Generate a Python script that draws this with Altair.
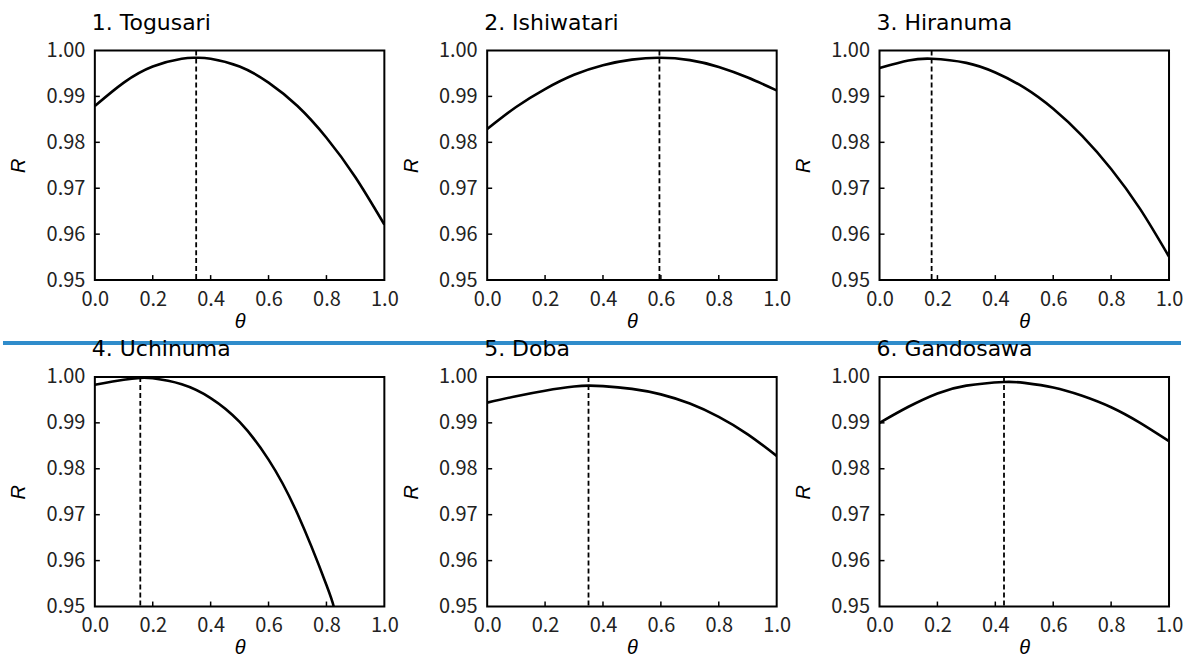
import altair as alt
import pandas as pd

TITLES = ["1. Togusari", "2. Ishiwatari", "3. Hiranuma",
          "4. Uchinuma", "5. Doba", "6. Gandosawa"]

THETA_1 = [0.0, 0.1, 0.2, 0.3, 0.35, 0.4, 0.5, 0.6, 0.7, 0.8, 0.9, 1.0]
R_1 = [0.9879, 0.9930, 0.9965, 0.9982, 0.9984, 0.9982, 0.9965, 0.9930, 0.9879, 0.9810, 0.9724, 0.9621]

THETA_2 = [0.0, 0.1, 0.2, 0.3, 0.4, 0.5, 0.595, 0.7, 0.8, 0.9, 1.0]
R_2 = [0.9829, 0.9877, 0.9916, 0.9947, 0.9968, 0.9980, 0.9984, 0.9979, 0.9964, 0.9941, 0.9913]

THETA_3 = [0.0, 0.1, 0.18, 0.3, 0.4, 0.5, 0.6, 0.7, 0.8, 0.9, 1.0]
R_3 = [0.9962, 0.9978, 0.9982, 0.9973, 0.9952, 0.9919, 0.9873, 0.9814, 0.9742, 0.9655, 0.9551]

THETA_4 = [0.0, 0.1, 0.157, 0.2, 0.3, 0.4, 0.5, 0.6, 0.7, 0.8, 0.825]
R_4 = [0.9983, 0.9994, 0.9998, 0.9997, 0.9984, 0.9954, 0.9902, 0.9820, 0.9702, 0.9547, 0.9500]

THETA_5 = [0.0, 0.1, 0.2, 0.3, 0.35, 0.4, 0.5, 0.6, 0.7, 0.8, 0.9, 1.0]
R_5 = [0.9944, 0.9958, 0.9970, 0.9979, 0.9981, 0.9980, 0.9974, 0.9962, 0.9942, 0.9913, 0.9875, 0.9828]

THETA_6 = [0.0, 0.1, 0.2, 0.3, 0.43, 0.5, 0.6, 0.7, 0.8, 0.9, 1.0]
R_6 = [0.9900, 0.9935, 0.9964, 0.9981, 0.9989, 0.9987, 0.9977, 0.9959, 0.9934, 0.9900, 0.9860]

PEAK_THETA = [0.35, 0.595, 0.18, 0.157, 0.35, 0.43]

X_TICKS = [0.0, 0.2, 0.4, 0.6, 0.8, 1.0]
Y_TICKS = [0.95, 0.96, 0.97, 0.98, 0.99, 1.00]
INNER_X_TICKS = [0.2, 0.4, 0.6, 0.8]
INNER_Y_TICKS = [0.96, 0.97, 0.98, 0.99]

THETAS = [THETA_1, THETA_2, THETA_3, THETA_4, THETA_5, THETA_6]
RS = [R_1, R_2, R_3, R_4, R_5, R_6]

W, H = 290, 230
LABEL_FONT = "Noto Sans CJK JP"
TITLE_FONT = "DejaVu Sans"
BLUE = "#2f8ccb"

x_axis = alt.Axis(values=X_TICKS, format=".1f", ticks=False, domain=False, grid=False,
                  labelFlush=False, labelFont=LABEL_FONT, labelFontSize=20,
                  labelColor="#222", labelPadding=9,
                  titleFont="Liberation Sans", titleFontSize=20, titleFontStyle="italic",
                  titleFontWeight="normal", titleColor="black",
                  titleBaseline="middle", titleY=41)
y_axis = alt.Axis(values=Y_TICKS, format=".2f", ticks=False, domain=False, grid=False,
                  labelFont=LABEL_FONT, labelFontSize=20, labelColor="#222",
                  labelPadding=10,
                  titleFont="Liberation Sans", titleFontSize=20, titleFontStyle="italic",
                  titleFontWeight="normal", titleColor="black",
                  titleAngle=270, titleBaseline="middle", titleAlign="center",
                  titleX=-76, titleY=H / 2)

xs = alt.Scale(domain=[0, 1], nice=False, zero=False)
ys = alt.Scale(domain=[0.95, 1.0], nice=False, zero=False)


def X():
    return alt.X("theta:Q", scale=xs, axis=x_axis, title="θ")


def Y():
    return alt.Y("R:Q", scale=ys, axis=y_axis, title="R")


def panel(i, blue=None, ghost=False):
    df = pd.DataFrame({"theta": THETAS[i], "R": RS[i]})
    curve = alt.Chart(df).mark_line(color="black", strokeWidth=2.6,
                                    interpolate="natural", clip=True).encode(x=X(), y=Y())
    peak = alt.Chart(pd.DataFrame({"theta": [PEAK_THETA[i]]})).mark_rule(
        color="black", strokeWidth=1.8, strokeDash=[5, 3]).encode(
        x=X(), y=alt.value(0), y2=alt.value(H))
    xt = alt.Chart(pd.DataFrame({"theta": INNER_X_TICKS})).mark_rule(
        color="black", strokeWidth=1.5).encode(x=X(), y=alt.value(H), y2=alt.value(H - 5))
    yt = alt.Chart(pd.DataFrame({"R": INNER_Y_TICKS})).mark_rule(
        color="black", strokeWidth=1.5).encode(y=Y(), x=alt.value(0), x2=alt.value(5))
    layers = [curve, peak, xt, yt]
    if blue is not None:
        layers.append(alt.Chart(pd.DataFrame({"k": [0]})).mark_rule(
            color=BLUE, strokeWidth=4).encode(
            x=alt.value(blue[0]), x2=alt.value(blue[1]), y=alt.value(H + 63)))
    if ghost:
        # invisible spacer so the second row lines up with the first
        layers.append(alt.Chart(pd.DataFrame({"k": [0]})).mark_rule(
            color="white", strokeWidth=4, strokeOpacity=0).encode(
            x=alt.value(-92), x2=alt.value(-88), y=alt.value(H)))
    return alt.layer(*layers).properties(
        width=W, height=H,
        title=alt.TitleParams(TITLES[i], anchor="start", frame="group", font=TITLE_FONT,
                              fontSize=22, fontWeight="normal", color="black",
                              baseline="alphabetic", dx=-3, offset=-11))


SP_X = 103
row1 = alt.hconcat(panel(0, (-92, W + SP_X)), panel(1, (0, W + SP_X)), panel(2, (0, W + 12)),
                   spacing=SP_X, bounds="flush")
row2 = alt.hconcat(panel(3, ghost=True), panel(4), panel(5), spacing=SP_X, bounds="flush")

chart = alt.vconcat(row1, row2, spacing=-9).properties(
    padding={"left": 0, "right": 0, "top": 10, "bottom": 0},
    background="white",
).configure_view(stroke="black", strokeWidth=2)

chart.save("out.html", embed_options={"renderer": "svg", "actions": False})
